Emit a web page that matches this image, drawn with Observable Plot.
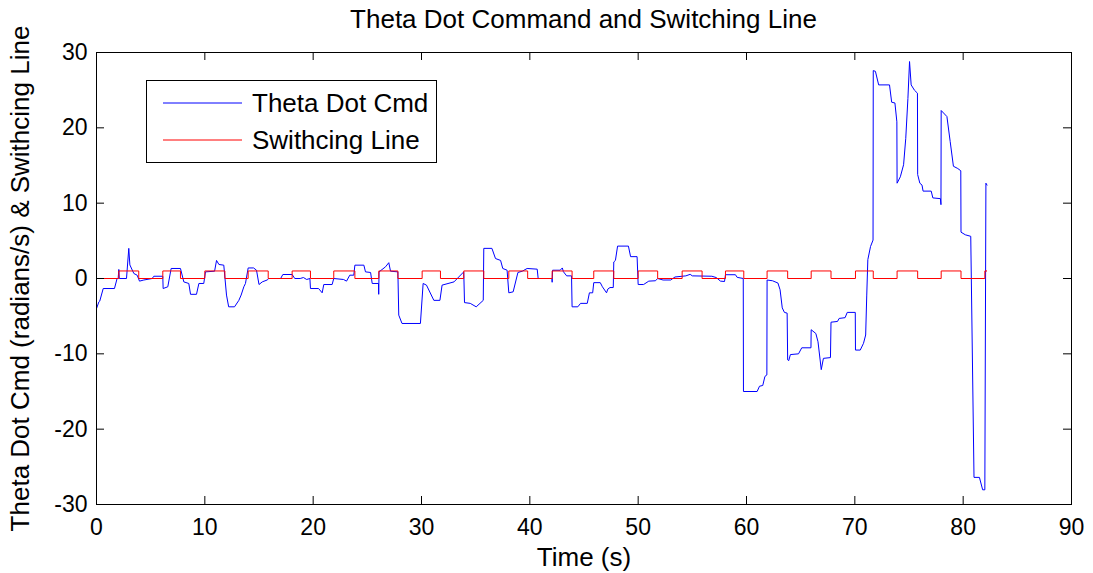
<!DOCTYPE html>
<html>
<head>
<meta charset="utf-8">
<script src="https://cdn.jsdelivr.net/npm/d3@7"></script>
<script src="https://cdn.jsdelivr.net/npm/@observablehq/plot@0.6"></script>
<style>
  html, body { margin: 0; padding: 0; background: #fff; }
  #wrap { position: relative; width: 1093px; height: 573px; font-family: "Liberation Sans", Arial, sans-serif; color: #000; }
  #title { position: absolute; left: 96px; width: 975px; top: 6px; text-align: center; font-size: 26px; line-height: 26px; white-space: nowrap; }
  #legend { position: absolute; left: 146px; top: 80px; width: 289px; height: 81px; border: 1px solid #000; background: #fff; }
  .row { position: absolute; left: 0; height: 30px; display: flex; align-items: center; font-size: 26px; white-space: nowrap; }
  .row svg { margin-left: 16px; margin-right: 10px; }
  g[aria-label="x-axis label"] text, g[aria-label="y-axis label"] text { font-size: 26px; }
</style>
</head>
<body>
<div id="wrap">
  <div id="chart"></div>
  <div id="title">Theta Dot Command and Switching Line</div>
  <div id="legend"></div>
</div>
<script>
// ---- data ----
const seriesNames = ["Theta Dot Cmd", "Swithcing Line"];
const seriesColors = ["#0000ff", "#ff0000"];

const cmdTime = [0,0.22,0.3,0.62,1.66,1.9,2.0,2.06,2.1,2.77,2.98,3.08,3.45,3.75,3.97,4.37,5.14,5.29,6.12,6.15,6.58,6.89,7.75,8.06,8.52,8.68,9.23,9.45,9.9,10.06,10.9,11.08,11.3,11.75,12.0,12.2,12.74,13.14,13.35,13.6,13.75,14.0,14.5,14.77,15.0,15.3,15.75,15.9,17.0,17.2,18.06,18.3,18.8,19.1,19.4,19.7,19.75,20.5,20.83,20.98,21.75,21.9,22.8,23.08,23.38,23.75,23.85,24.68,24.83,25.3,25.45,26.03,26.05,26.08,26.68,26.98,27.14,27.82,27.9,28.2,29.9,30.15,30.46,31.14,31.7,31.9,33.0,33.3,33.9,33.97,34.5,35.05,35.7,35.75,36.5,36.83,37.3,37.5,37.9,38.06,38.46,38.9,39.3,39.75,40.68,40.77,42.04,42.06,42.1,42.8,43.0,43.1,43.4,43.85,43.9,44.43,44.68,45.3,45.5,45.8,45.9,46.5,46.7,47.08,47.2,47.4,47.7,47.75,47.9,48.1,49.1,49.3,49.9,50.0,50.5,50.98,51.6,51.8,52.3,53.0,53.4,54.4,54.8,55.0,56.8,57.2,57.6,57.97,58.06,58.98,59.14,59.7,59.72,60.98,61.2,61.5,61.7,61.88,61.9,62.4,62.9,63.1,63.3,63.5,63.75,63.8,63.9,64.05,64.8,65.1,65.95,65.97,66.4,66.6,66.9,67.1,67.75,67.8,68.4,68.55,69.1,69.3,70.04,70.06,70.5,70.8,71.0,71.1,71.2,71.45,71.68,71.7,71.9,72.2,73.2,73.4,73.7,73.88,73.9,74.2,74.5,74.7,74.9,75.05,75.2,75.5,75.78,75.8,76.0,76.2,76.3,77.05,77.2,77.9,77.95,77.97,78.5,78.8,79.1,79.5,79.78,79.8,80.2,80.7,81.0,81.5,81.8,82.0,82.1,82.2];
const cmdValue = [-4.0,-3.1,-3.0,-1.33,-1.33,0,0,1.2,0,0,4.0,1.8,0.66,0.44,-0.35,-0.2,0,0.3,0.3,-1.33,-1.1,1.33,1.33,-0.45,-0.66,-2.1,-2.1,-0.66,-0.66,0.88,0.97,2.4,1.86,1.77,-2.2,-3.76,-3.76,-2.9,-2.2,-1.1,-0.66,1.4,1.4,1.1,-0.8,-0.45,-0.2,0,0,0.53,0.53,0,0,0.13,-0.13,0,-1.33,-1.33,-1.9,-0.8,-0.8,0,-0.13,-0.35,0.44,0.44,1.77,1.77,0.88,0.8,-0.66,-0.66,-2.1,0.88,1.55,2.1,0.97,0.88,-4.86,-5.97,-5.97,-0.66,-0.88,-2.9,-2.9,-0.88,-0.45,0,0.88,-3.2,-3.3,-3.76,-2.9,4.0,4.0,2.65,2.4,1.33,1.1,-1.9,-1.77,0.8,0.97,1.33,1.24,0,0,-0.5,1.1,1.1,1.4,0.9,0.35,0.35,-3.76,-3.76,-3.3,-3.3,-1.9,-1.9,-0.55,-0.55,-1.1,-1.9,-1.4,-1.2,-1.2,2.2,2.4,4.3,4.3,2.9,2.9,-0.8,-0.8,-0.35,-0.3,0,-0.2,-0.2,0.2,0.35,0.55,0.35,0.3,0.13,-0.35,-0.4,0.5,0.5,0.15,0,-15.0,-15.0,-14.3,-14.2,-13.0,-12.8,-0.2,-0.3,-0.6,-1.5,-3.9,-4.5,-4.6,-10.8,-10.9,-10.1,-10.0,-9.2,-9.2,-6.8,-7.3,-8.4,-12.1,-10.6,-10.5,-5.8,-5.7,-5.3,-5.2,-4.5,-4.5,-9.5,-9.5,-8.6,-7.5,-2.2,2.5,4.25,5.1,27.6,27.5,25.7,25.7,23.4,23.3,20.8,12.65,13.5,15.1,18.6,23.9,28.8,25.7,25.0,24.6,13.8,12.65,12.4,11.6,11.6,10.7,10.6,9.8,22.3,21.5,18.2,14.9,14.6,14.3,6.15,5.8,5.6,-26.4,-26.4,-28.05,-28.05,12.65,12.4];

const switchTime = [0,2.06,3.9,6.12,7.75,10.0,11.85,14.0,15.85,18.06,19.75,21.9,23.85,26.06,27.82,30.06,31.75,33.9,35.75,38.06,39.8,42.06,43.9,45.9,47.75,50.0,51.8,54.06,55.9,58.06,59.75,61.9,63.8,65.97,67.8,70.06,71.7,73.9,75.8,77.97,79.8,82.0,82.2];
const switchValue = [0,1,0,1,0,1,0,1,0,1,0,1,0,1,0,1,0,1,0,1,0,1,0,1,0,1,0,1,0,1,0,1,0,1,0,1,0,1,0,1,0,1,1];

const xTicks = [0,10,20,30,40,50,60,70,80,90];
const yTicks = [-30,-20,-10,0,10,20,30];
const xLabel = "Time (s)";
const yLabel = "Theta Dot Cmd (radians/s) & Swithcing Line";

// ---- build ----
const cmd = cmdTime.map((t, i) => ({t, v: cmdValue[i]}));
const sw = switchTime.map((t, i) => ({t, v: switchValue[i]}));

const W = 1093, H = 573, ML = 96, MR = 22, MT = 52, MB = 69;
const TICK = 8;
const innerW = W - ML - MR, innerH = H - MT - MB;

const chart = Plot.plot({
  width: W, height: H,
  marginLeft: ML, marginRight: MR, marginTop: MT, marginBottom: MB,
  style: {fontFamily: "'Liberation Sans', Arial, sans-serif", fontSize: "23px", color: "black", background: "white", overflow: "visible"},
  x: {domain: [0, 90]},
  y: {domain: [-30, 30]},
  marks: [
    Plot.line(cmd, {x: "t", y: "v", stroke: seriesColors[0], strokeWidth: 1}),
    Plot.line(sw, {x: "t", y: "v", stroke: seriesColors[1], strokeWidth: 1, curve: "step-after"}),
    Plot.frame({stroke: "black", strokeWidth: 1}),
    Plot.tickX(xTicks, {x: d => d, stroke: "black", insetBottom: innerH - TICK}),
    Plot.tickX(xTicks, {x: d => d, stroke: "black", insetTop: innerH - TICK}),
    Plot.tickY(yTicks, {y: d => d, stroke: "black", insetRight: innerW - TICK}),
    Plot.tickY(yTicks, {y: d => d, stroke: "black", insetLeft: innerW - TICK}),
    Plot.axisX(xTicks, {tickSize: 0, tickPadding: 14, tickFormat: d => String(d), label: xLabel, labelAnchor: "center", labelOffset: 61, labelArrow: "none", fontSize: 23}),
    Plot.axisY(yTicks, {tickSize: 0, tickPadding: 9, tickFormat: d => String(d), label: yLabel, labelAnchor: "center", labelOffset: 86, labelArrow: "none", fontSize: 23})
  ]
});
document.getElementById("chart").appendChild(chart);

// legend
const legend = document.getElementById("legend");
const rowTops = [7, 44];
seriesNames.forEach((name, i) => {
  const row = document.createElement("div");
  row.className = "row";
  row.style.top = rowTops[i] + "px";
  row.innerHTML = `<svg width="79" height="4"><line x1="0" x2="79" y1="2" y2="2" stroke="${seriesColors[i]}" stroke-width="1"/></svg><span>${name}</span>`;
  legend.appendChild(row);
});
</script>
</body>
</html>
